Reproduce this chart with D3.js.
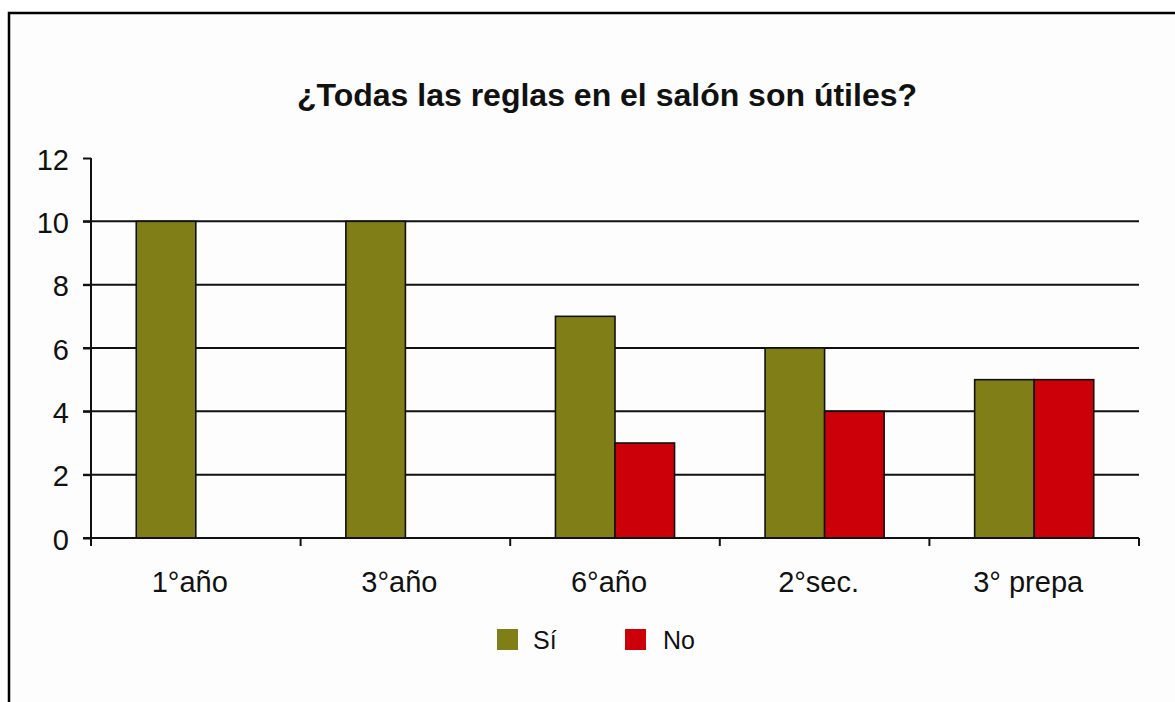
<!DOCTYPE html>
<html>
<head>
<meta charset="utf-8">
<script src="https://cdn.jsdelivr.net/npm/d3@7"></script>
<style>
  html, body { margin: 0; padding: 0; background: #ffffff; }
  svg { display: block; }
  text { font-family: "Liberation Sans", Arial, sans-serif; fill: #111; }
</style>
</head>
<body>
<svg id="chart" width="1175" height="702"></svg>
<script>
const title = "¿Todas las reglas en el salón son útiles?";
const categories = ["1°año", "3°año", "6°año", "2°sec.", "3° prepa"];
const seriesNames = ["Sí", "No"];
const siValues = [10, 10, 7, 6, 5];
const noValues = [0, 0, 3, 4, 5];
const yTicks = [0, 2, 4, 6, 8, 10, 12];
const colors = ["#807f17", "#cc0008"];

const svg = d3.select("#chart");
const W = 1175, H = 702;

// background + outer frame
svg.append("rect").attr("x", 0).attr("y", 0).attr("width", W).attr("height", H).attr("fill", "#ffffff");
svg.append("rect").attr("x", 9).attr("y", 13).attr("width", W + 20).attr("height", H + 20)
  .attr("fill", "#fdfdfd").attr("stroke", "#000").attr("stroke-width", 2.5);

const pLeft = 91, pRight = 1139, pTop = 158, pBottom = 538;

const x0 = d3.scaleBand().domain(categories).range([pLeft, pRight]).paddingInner(0).paddingOuter(0);
const x1 = d3.scaleBand().domain(seriesNames).range([0, x0.bandwidth()]).paddingInner(0).paddingOuter(0.76);
const y = d3.scaleLinear().domain([0, 12]).range([pBottom, pTop]);

// title
svg.append("text").attr("x", 607).attr("y", 106).attr("text-anchor", "middle")
  .attr("font-size", 32).attr("font-weight", "bold").text(title);

// gridlines (with tick extension to the left)
svg.append("g").selectAll("line").data(yTicks.filter(d => d > 0 && d < 12)).join("line")
  .attr("x1", pLeft - 8).attr("x2", pRight)
  .attr("y1", d => y(d)).attr("y2", d => y(d))
  .attr("stroke", "#111").attr("stroke-width", 2);

// bars
const data = categories.map((c, i) => ({ cat: c, vals: [siValues[i], noValues[i]] }));
const groups = svg.append("g").selectAll("g").data(data).join("g")
  .attr("transform", d => `translate(${x0(d.cat)},0)`);
groups.selectAll("rect").data(d => d.vals.map((v, j) => ({ v, s: seriesNames[j], j })).filter(e => e.v > 0))
  .join("rect")
  .attr("x", e => x1(e.s)).attr("width", x1.bandwidth())
  .attr("y", e => y(e.v)).attr("height", e => y(0) - y(e.v))
  .attr("fill", e => colors[e.j]).attr("stroke", "#111").attr("stroke-width", 1.6);

// y axis
const yAxis = d3.axisLeft(y).tickValues(yTicks).tickSize(8).tickPadding(14).tickFormat(d3.format("d"));
const gy = svg.append("g").attr("transform", `translate(${pLeft},0)`).call(yAxis);
gy.select(".domain").remove();
gy.selectAll(".tick line").attr("stroke", "#111").attr("stroke-width", 2);
gy.selectAll(".tick text").attr("font-size", 29).attr("fill", "#111")
  .attr("font-family", "'Liberation Sans', Arial, sans-serif").attr("dy", "0.38em");
svg.append("line").attr("x1", pLeft).attr("x2", pLeft).attr("y1", pTop).attr("y2", pBottom + 8)
  .attr("stroke", "#111").attr("stroke-width", 2);

// x axis
svg.append("line").attr("x1", pLeft - 8).attr("x2", pRight).attr("y1", pBottom).attr("y2", pBottom)
  .attr("stroke", "#111").attr("stroke-width", 2);
const boundaries = categories.map(c => x0(c)).concat([x0(categories[categories.length - 1]) + x0.bandwidth()]);
svg.append("g").selectAll("line").data(boundaries).join("line")
  .attr("x1", d => d).attr("x2", d => d).attr("y1", pBottom).attr("y2", pBottom + 8)
  .attr("stroke", "#111").attr("stroke-width", 2);
svg.append("g").selectAll("text").data(categories).join("text")
  .attr("x", d => x0(d) + x0.bandwidth() / 2 - 6).attr("y", 592)
  .attr("text-anchor", "middle").attr("font-size", 29).text(d => d);

// legend
const legendX = [497, 625];
const lg = svg.append("g").selectAll("g").data(seriesNames).join("g")
  .attr("transform", (d, i) => `translate(${legendX[i]},629)`);
lg.append("rect").attr("width", 21).attr("height", 21).attr("fill", (d, i) => colors[i]);
lg.append("text").attr("x", (d, i) => i === 0 ? 36 : 38).attr("y", 20).attr("font-size", 25).text(d => d);
</script>
</body>
</html>
